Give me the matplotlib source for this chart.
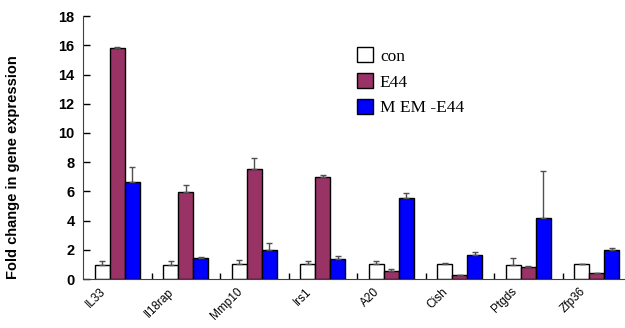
import numpy as np
import matplotlib
matplotlib.use("Agg")
import matplotlib.pyplot as plt

genes = ["IL33", "Il18rap", "Mmp10", "Irs1", "A20", "Cish", "Ptgds", "Zfp36"]
con = [1.0, 1.0, 1.05, 1.05, 1.05, 1.05, 1.0, 1.05]
con_err = [0.25, 0.25, 0.25, 0.2, 0.2, 0.05, 0.45, 0.0]
e44 = [15.8, 5.95, 7.55, 7.0, 0.55, 0.25, 0.8, 0.4]
e44_err = [0.1, 0.5, 0.75, 0.15, 0.15, 0.0, 0.1, 0.05]
mem = [6.65, 1.45, 2.0, 1.4, 5.57, 1.68, 4.2, 1.96]
mem_err = [1.0, 0.05, 0.5, 0.2, 0.33, 0.17, 3.2, 0.2]
series_names = ["con", "E44", "M EM -E44"]

plt.rcParams['font.family'] = ['Liberation Sans', 'DejaVu Sans']

fig = plt.figure(figsize=(6.25, 3.28), dpi=100)
ax = fig.add_axes([0.1328, 0.149, 0.877, 0.802])

x = np.arange(len(genes))
w = 0.22
colors = ["white", "#993366", "#0000FF"]
for k, (vals, errs) in enumerate([(con, con_err), (e44, e44_err), (mem, mem_err)]):
    errs = np.array(errs)
    ax.bar(x + (k - 1) * w, vals, w, color=colors[k], edgecolor="black",
           linewidth=1.0, label=series_names[k],
           yerr=[np.zeros_like(errs), errs],
           error_kw=dict(ecolor="#505050", elinewidth=1.0, capsize=2.5, capthick=1.0))

ax.set_xlim(-0.5, len(genes) - 0.5)
ax.set_ylim(0, 18)
ax.set_yticks(np.arange(0, 19, 2))
ax.set_xticks(x[:-1] + 0.5)
ax.set_xticklabels([])
ax.tick_params(axis="x", direction="in", length=4, width=1)
ax.tick_params(axis="y", direction="in", length=5, width=1, labelsize=10.5, pad=6)
for lab in ax.get_yticklabels():
    lab.set_fontweight("bold")
for s in ["top", "right"]:
    ax.spines[s].set_visible(False)
ax.spines["left"].set_color("#404040")
ax.spines["bottom"].set_color("#404040")

for i, g in enumerate(genes):
    ax.text(i - 0.26, -0.025, g, transform=ax.get_xaxis_transform(),
            rotation=45, ha="right", va="top", rotation_mode="anchor", fontsize=8.5)

ax.set_ylabel("Fold change in gene expression", fontsize=10.5, fontweight="bold")
ax.yaxis.set_label_coords(-0.115, 0.0)
ax.yaxis.label.set_horizontalalignment("left")

leg = ax.legend(loc="upper left", bbox_to_anchor=(0.472, 0.94), frameon=False,
                prop={"family": "Liberation Serif", "size": 12.5},
                handlelength=0.9, handleheight=0.9, handletextpad=0.4, labelspacing=0.5)

fig.savefig("out.png", dpi=100)
